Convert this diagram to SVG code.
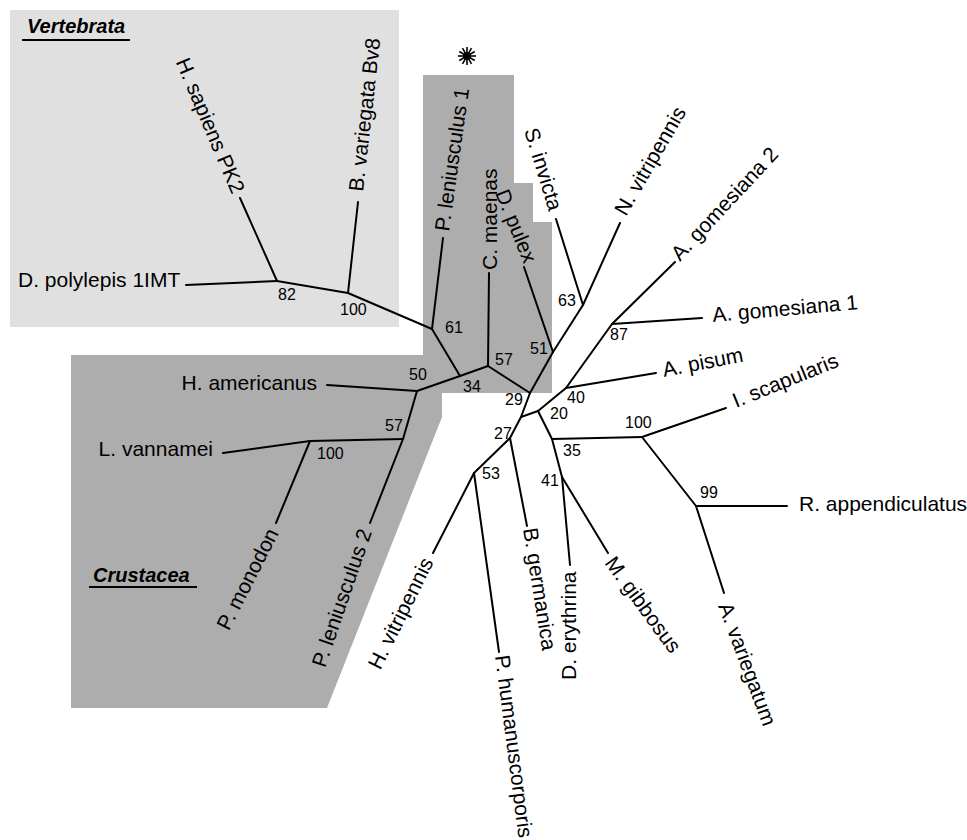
<svg xmlns="http://www.w3.org/2000/svg" width="967" height="840" viewBox="0 0 967 840">
<style>
.lf{font-family:"Liberation Sans",Arial,sans-serif;font-size:21px;fill:#000}
.bs{font-family:"Liberation Sans",Arial,sans-serif;font-size:16px;fill:#000}
.grp{font-family:"Liberation Sans",Arial,sans-serif;font-size:20px;font-weight:bold;font-style:italic;fill:#000}
.br{stroke:#000;stroke-width:2;stroke-linecap:round;fill:none}
.ul{stroke:#000;stroke-width:2}
</style>
<rect width="967" height="840" fill="#fff"/>
<g id="bg-vertebrata">
<rect x="10" y="10" width="389" height="317" fill="#e0e0e0"/>
<text class="grp" x="27" y="33">Vertebrata</text>
<line class="ul" x1="22" y1="40" x2="130" y2="40"/>
</g>
<g id="bg-crustacea">
<polygon points="423,75 514,75 514,183 533,183 533,222 552,222 552,393 442,393 442,417 327,708 71,708 71,355 423,355" fill="#adadad"/>
<text class="grp" x="93" y="582">Crustacea</text>
<line class="ul" x1="89" y1="587" x2="197" y2="587"/>
</g>
<g id="star" transform="translate(467,56)" stroke="#000" stroke-width="1.6">
<line x1="-9" y1="0" x2="9" y2="0"/>
<line x1="-9" y1="0" x2="9" y2="0" transform="rotate(30)"/>
<line x1="-9" y1="0" x2="9" y2="0" transform="rotate(60)"/>
<line x1="-9" y1="0" x2="9" y2="0" transform="rotate(90)"/>
<line x1="-9" y1="0" x2="9" y2="0" transform="rotate(120)"/>
<line x1="-9" y1="0" x2="9" y2="0" transform="rotate(150)"/>
<circle r="3" fill="#000"/>
</g>
<g id="connectors">
<line class="br" x1="186" y1="285" x2="277" y2="281"/>
<line class="br" x1="277" y1="281" x2="240" y2="198"/>
<line class="br" x1="277" y1="281" x2="348" y2="293"/>
<line class="br" x1="348" y1="293" x2="358" y2="202"/>
<line class="br" x1="348" y1="293" x2="432" y2="329"/>
<line class="br" x1="432" y1="329" x2="443" y2="238"/>
<line class="br" x1="432" y1="329" x2="460" y2="376"/>
<line class="br" x1="417" y1="391" x2="460" y2="376"/>
<line class="br" x1="460" y1="376" x2="488" y2="366"/>
<line class="br" x1="488" y1="366" x2="489" y2="273"/>
<line class="br" x1="488" y1="366" x2="530" y2="393"/>
<line class="br" x1="553" y1="352" x2="524" y2="267"/>
<line class="br" x1="553" y1="352" x2="530" y2="393"/>
<line class="br" x1="553" y1="352" x2="583" y2="305"/>
<line class="br" x1="583" y1="305" x2="556" y2="219"/>
<line class="br" x1="583" y1="305" x2="620" y2="223"/>
<line class="br" x1="530" y1="393" x2="521" y2="417"/>
<line class="br" x1="521" y1="417" x2="538" y2="411"/>
<line class="br" x1="521" y1="417" x2="510" y2="438"/>
<line class="br" x1="538" y1="411" x2="566" y2="388"/>
<line class="br" x1="566" y1="388" x2="612" y2="324"/>
<line class="br" x1="566" y1="388" x2="656" y2="373"/>
<line class="br" x1="612" y1="324" x2="702" y2="318"/>
<line class="br" x1="612" y1="324" x2="675" y2="262"/>
<line class="br" x1="538" y1="411" x2="552" y2="439"/>
<line class="br" x1="552" y1="439" x2="562" y2="477"/>
<line class="br" x1="552" y1="439" x2="642" y2="437"/>
<line class="br" x1="642" y1="437" x2="726" y2="408"/>
<line class="br" x1="642" y1="437" x2="696" y2="506"/>
<line class="br" x1="696" y1="506" x2="787" y2="506"/>
<line class="br" x1="696" y1="506" x2="724" y2="593"/>
<line class="br" x1="562" y1="477" x2="570" y2="565"/>
<line class="br" x1="562" y1="477" x2="608" y2="553"/>
<line class="br" x1="510" y1="438" x2="527" y2="526"/>
<line class="br" x1="510" y1="438" x2="474" y2="473"/>
<line class="br" x1="474" y1="473" x2="499" y2="652"/>
<line class="br" x1="474" y1="473" x2="433" y2="553"/>
<line class="br" x1="417" y1="391" x2="327" y2="385"/>
<line class="br" x1="417" y1="391" x2="403" y2="439"/>
<line class="br" x1="403" y1="439" x2="370" y2="523"/>
<line class="br" x1="403" y1="439" x2="310" y2="441"/>
<line class="br" x1="310" y1="441" x2="223" y2="453"/>
<line class="br" x1="310" y1="441" x2="276" y2="523"/>
</g>
<g id="leaf-d-polylepis"><text class="lf" x="18" y="287">D. polylepis 1IMT</text></g>
<g id="leaf-h-sapiens"><text class="lf" text-anchor="end" transform="translate(232,195) rotate(67)">H. sapiens PK2</text></g>
<g id="leaf-b-variegata"><text class="lf" transform="translate(363,192) rotate(-83.5)">B. variegata Bv8</text></g>
<g id="leaf-p-leniusculus-1"><text class="lf" transform="translate(449,232) rotate(-82)">P. leniusculus 1</text></g>
<g id="leaf-c-maenas"><text class="lf" transform="translate(497,270) rotate(-90)">C. maenas</text></g>
<g id="leaf-d-pulex"><text class="lf" transform="translate(495,193) rotate(68)">D. pulex</text></g>
<g id="leaf-s-invicta"><text class="lf" text-anchor="end" transform="translate(549,212) rotate(73)">S. invicta</text></g>
<g id="leaf-n-vitripennis"><text class="lf" transform="translate(626,217) rotate(-60)">N. vitripennis</text></g>
<g id="leaf-a-gomesiana-2"><text class="lf" transform="translate(680,262) rotate(-47)">A. gomesiana 2</text></g>
<g id="leaf-a-gomesiana-1"><text class="lf" transform="translate(713,322) rotate(-5)">A. gomesiana 1</text></g>
<g id="leaf-a-pisum"><text class="lf" transform="translate(664,377) rotate(-11)">A. pisum</text></g>
<g id="leaf-i-scapularis"><text class="lf" transform="translate(736,408) rotate(-22)">I. scapularis</text></g>
<g id="leaf-r-appendiculatus"><text class="lf" x="799" y="511">R. appendiculatus</text></g>
<g id="leaf-a-variegatum"><text class="lf" transform="translate(718,606) rotate(69.5)">A. variegatum</text></g>
<g id="leaf-m-gibbosus"><text class="lf" transform="translate(604,563) rotate(54)">M. gibbosus</text></g>
<g id="leaf-d-erythrina"><text class="lf" transform="translate(576,680) rotate(-90)">D. erythrina</text></g>
<g id="leaf-b-germanica"><text class="lf" transform="translate(523,529) rotate(81)">B. germanica</text></g>
<g id="leaf-p-humanuscorporis"><text class="lf" transform="translate(495,656) rotate(82.6)">P. humanuscorporis</text></g>
<g id="leaf-h-vitripennis"><text class="lf" text-anchor="end" transform="translate(434,562) rotate(-63.7)">H. vitripennis</text></g>
<g id="leaf-p-leniusculus-2"><text class="lf" text-anchor="end" transform="translate(372,532) rotate(-71)">P. leniusculus 2</text></g>
<g id="leaf-p-monodon"><text class="lf" text-anchor="end" transform="translate(279,533) rotate(-63)">P. monodon</text></g>
<g id="leaf-l-vannamei"><text class="lf" x="213" y="456" text-anchor="end">L. vannamei</text></g>
<g id="leaf-h-americanus"><text class="lf" x="317" y="390" text-anchor="end">H. americanus</text></g>
<g id="node-82"><text class="bs" x="278" y="300">82</text></g>
<g id="node-100a"><text class="bs" x="340" y="315">100</text></g>
<g id="node-61"><text class="bs" x="445" y="333">61</text></g>
<g id="node-34"><text class="bs" x="463" y="392">34</text></g>
<g id="node-57a"><text class="bs" x="495" y="365">57</text></g>
<g id="node-50"><text class="bs" x="409" y="380">50</text></g>
<g id="node-51"><text class="bs" x="530" y="354">51</text></g>
<g id="node-63"><text class="bs" x="558" y="306">63</text></g>
<g id="node-29"><text class="bs" x="505" y="405">29</text></g>
<g id="node-27"><text class="bs" x="494" y="439">27</text></g>
<g id="node-20"><text class="bs" x="550" y="419">20</text></g>
<g id="node-40"><text class="bs" x="567" y="403">40</text></g>
<g id="node-87"><text class="bs" x="610" y="340">87</text></g>
<g id="node-35"><text class="bs" x="563" y="456">35</text></g>
<g id="node-41"><text class="bs" x="541" y="486">41</text></g>
<g id="node-53"><text class="bs" x="482" y="479">53</text></g>
<g id="node-100b"><text class="bs" x="625" y="428">100</text></g>
<g id="node-99"><text class="bs" x="700" y="498">99</text></g>
<g id="node-57b"><text class="bs" x="385" y="431">57</text></g>
<g id="node-100c"><text class="bs" x="317" y="459">100</text></g>
</svg>
